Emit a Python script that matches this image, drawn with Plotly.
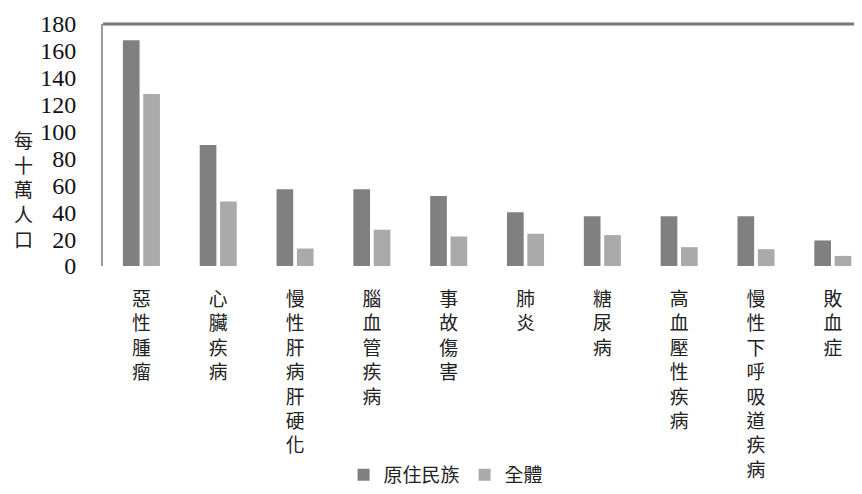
import plotly.graph_objects as go

categories = ["惡性腫瘤", "心臟疾病", "慢性肝病肝硬化", "腦血管疾病", "事故傷害",
              "肺炎", "糖尿病", "高血壓性疾病", "慢性下呼吸道疾病", "敗血症"]
indigenous = [168, 90, 57, 57, 52, 40, 37, 37, 37, 19]
overall = [128, 48, 13, 27, 22, 24, 23, 14, 12.5, 7.5]
y_ticks = [0, 20, 40, 60, 80, 100, 120, 140, 160, 180]
series_names = ["原住民族", "全體"]
y_title = "每十萬人口"

tick_labels = ["<br>".join(list(c)) for c in categories]
x = list(range(len(categories)))

fig = go.Figure()
fig.add_trace(go.Bar(x=x, y=indigenous, name=series_names[0],
                     marker=dict(color="#808080", line=dict(width=0))))
fig.add_trace(go.Bar(x=x, y=overall, name=series_names[1],
                     marker=dict(color="#aaaaaa", line=dict(width=0))))

cjk = "Noto Sans CJK TC"
# page body has an 8px default margin, so the figure is 8px smaller than the window
fig.update_layout(
    width=854, height=486,
    margin=dict(l=95, r=0, t=16, b=227),
    paper_bgcolor="white", plot_bgcolor="white",
    barmode="group", bargap=0.47, bargroupgap=0.18,
    showlegend=True,
    legend=dict(orientation="h", x=0.452, xanchor="center", y=-0.864, yanchor="middle",
                font=dict(family=cjk, size=19, color="#222"), itemwidth=30,
                traceorder="normal"),
    xaxis=dict(tickmode="array", tickvals=x, ticktext=tick_labels,
               range=[-0.5, 9.38], showgrid=False, zeroline=False, showline=False,
               ticks="", tickangle=0, ticklabelstandoff=20,
               tickfont=dict(family=cjk, size=18.8, color="#222")),
    yaxis=dict(range=[0, 180], tickvals=y_ticks, showgrid=False, zeroline=False,
               showline=True, linecolor="#999999", linewidth=2, ticks="",
               ticklabelstandoff=20,
               tickfont=dict(family="Liberation Serif", size=24, color="#111")),
    shapes=[
        dict(type="line", xref="paper", yref="paper", x0=0, x1=1, y0=1, y1=1,
             line=dict(color="#777777", width=3), layer="above"),
    ],
    annotations=[dict(text="<br>".join(list(y_title)), xref="paper", yref="paper",
                      x=-0.105, y=0.317, xanchor="center", yanchor="middle",
                      showarrow=False, font=dict(family=cjk, size=19, color="#222"))],
)

fig.write_html("out.html")
